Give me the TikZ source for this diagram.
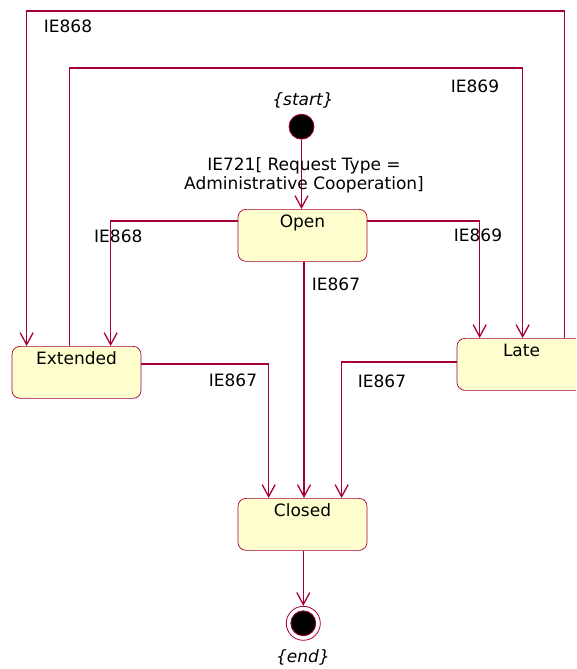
\documentclass[tikz,border=0pt]{standalone}
\usepackage{fontspec}
\setmainfont{DejaVu Sans}
\usetikzlibrary{arrows.meta,calc}
\definecolor{umlred}{HTML}{A80036}
\definecolor{umlfill}{HTML}{FEFECE}
\begin{document}
\begin{tikzpicture}[x=1pt,y=-1pt,
  statebox/.style={draw=umlred, line width=0.7pt, fill=umlfill, rounded corners=8pt,
    minimum width=129pt, inner xsep=0pt, inner ysep=6pt, text height=12.5pt, text depth=27.5pt,
    font=\fontsize{17}{19}\selectfont, anchor=north},
  flow/.style={draw=umlred, line width=1.3pt, -{Straight Barb[length=12pt,width=13pt,line width=1.3pt]}},
  lbl/.style={font=\fontsize{17}{19}\selectfont, inner sep=0pt},
  pseudo/.style={circle, draw=umlred, line width=0.8pt, inner sep=0pt},
]
\useasboundingbox (0,0) rectangle (576,669);
\begin{scope}
\clip (0,0) rectangle (576,669);

% states
\node[statebox] (open) at (302.5,209) {Open};
\node[statebox] (ext) at (76.5,346) {Extended};
\node[statebox] (late) at (521.5,338) {Late};
\node[statebox] (closed) at (302.5,498) {Closed};

% pseudo states
\node[pseudo, fill=black, minimum size=25pt] (start) at (301.5,126.7) {};
\node[lbl, font=\fontsize{17}{19}\selectfont\itshape] (starttxt) at (303,100) {\{start\}};
\node[pseudo, fill=white, minimum size=34pt] (end) at (303.3,623.3) {};
\node[pseudo, fill=black, minimum size=25pt] (endin) at (end) {};
\node[lbl, font=\fontsize{17}{19}\selectfont\itshape] (endtxt) at (303,657) {\{end\}};

% helper coordinates
\coordinate (top1) at (0,11);
\coordinate (top2) at (0,68);
\coordinate (a1) at ($(late.north west)+(108,0)$);
\coordinate (a2) at ($(ext.north west)+(58,0)$);

% transitions
\draw[flow] (start.south) -- (start.south |- open.north);
\draw[flow] ($(open.north west)+(0,12)$) -| ($(ext.north west)+(99,0)$);
\draw[flow] ($(open.north east)+(0,12)$) -| ($(late.north west)+(23,0)$);
\draw[flow] ($(open.south)+(1.5,0)$) -- ($(closed.north)+(1.5,0)$);
\draw[flow] ($(ext.north east)+(0,18)$) -| ($(closed.north west)+(31,0)$);
\draw[flow] ($(late.north west)+(0,24)$) -| ($(closed.north west)+(104,0)$);
\draw[flow] (closed.south -| end) -- (end.north);
\draw[flow] (a1) -- (a1 |- top1) -| ($(ext.north west)+(15,0)$);
\draw[flow] (a2) -- (a2 |- top2) -| ($(late.north west)+(66,0)$);

% labels
\node[lbl, align=center] (l721) at (304,175.5) {IE721[ Request Type =\\Administrative Cooperation]};
\node[lbl] (l868a) at (118.3,236) {IE868};
\node[lbl] (l869a) at (478,235) {IE869};
\node[lbl] (l867a) at (336,284) {IE867};
\node[lbl] (l867b) at (233,380) {IE867};
\node[lbl] (l867c) at (382,381) {IE867};
\node[lbl] (l868b) at (68,26.5) {IE868};
\node[lbl] (l869b) at (475,86) {IE869};
\end{scope}
\end{tikzpicture}
\end{document}
